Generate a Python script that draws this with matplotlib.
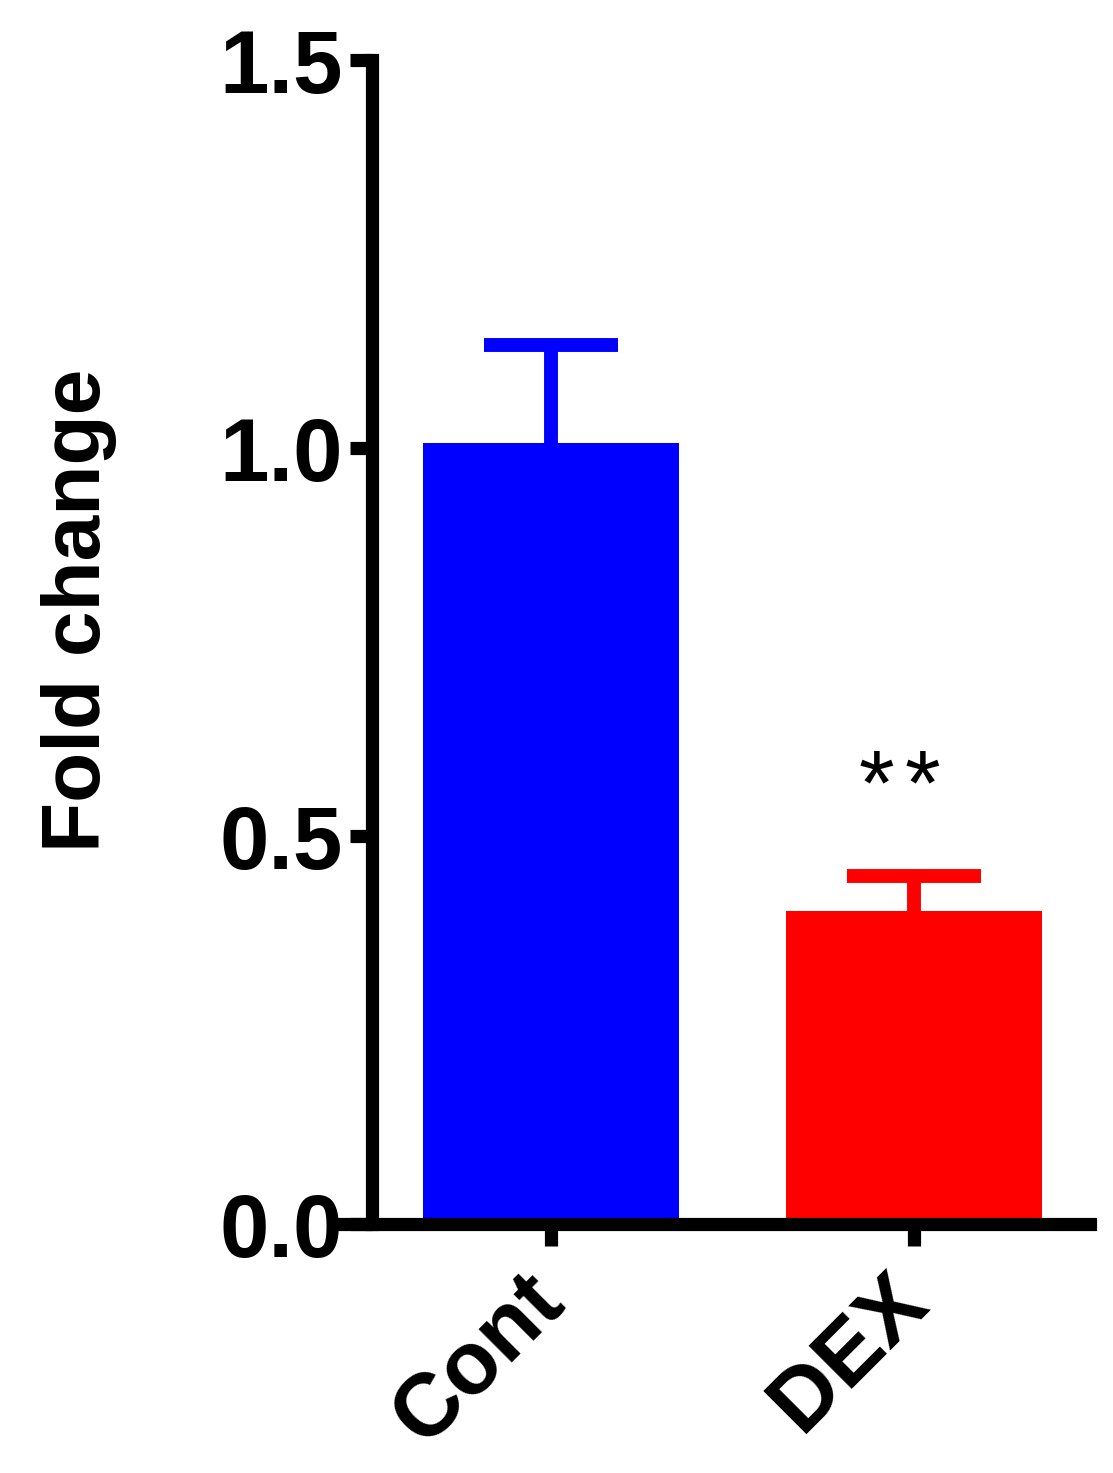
import numpy as np
import matplotlib
matplotlib.use('Agg')
import matplotlib.pyplot as plt

plt.rcParams['font.family'] = ['Liberation Sans', 'DejaVu Sans']
plt.rcParams['font.weight'] = 'bold'

# Values
groups = ['Cont', 'DEX']
fold_change = [1.007, 0.403]
sem = [0.126, 0.046]
bar_colors = ['#0000FF', '#FF0000']
y_ticks = [0.0, 0.5, 1.0, 1.5]
y_tick_labels = ['0.0', '0.5', '1.0', '1.5']
stars = ['*', '*']

fig = plt.figure(figsize=(11.13, 14.73), dpi=100)
ax = fig.add_axes([0.309, 0.169, 0.670, 0.79])

x = np.arange(len(groups))
cap_half = 0.185
for i in range(len(groups)):
    ax.bar(x[i], fold_change[i], width=0.705, color=bar_colors[i], zorder=2)
    # only the upper half of the error bar, like Prism draws it
    top = fold_change[i] + sem[i]
    ax.vlines(x[i], fold_change[i], top, color=bar_colors[i], linewidth=10, zorder=1)
    ax.hlines(top, x[i] - cap_half, x[i] + cap_half, color=bar_colors[i],
              linewidth=10, zorder=1)

# significance stars over DEX
star_y = fold_change[1] + sem[1] + 0.11
for k, s in enumerate(stars):
    ax.text(x[1] - 0.102 + 0.127 * k, star_y, s, ha='center', va='center',
            fontsize=66, fontweight='normal')

ax.set_xlim(-0.57, 1.485)
ax.set_ylim(0, 1.5)

# Prism style axes: left spine sits inside so the bottom one sticks out
ax.spines['top'].set_visible(False)
ax.spines['right'].set_visible(False)
ax.spines['left'].set_position(('data', -0.493))
ax.spines['left'].set_linewidth(9.5)
ax.spines['bottom'].set_linewidth(9.5)
ax.spines['left'].set_capstyle('projecting')

ax.set_yticks(y_ticks)
ax.set_yticklabels(y_tick_labels)
ax.set_xticks(x)
ax.set_xticklabels(groups, rotation=45, ha='right', va='center', rotation_mode='anchor')
ax.tick_params(axis='both', length=16, width=9.5, labelsize=64, pad=5)
ax.tick_params(axis='x', pad=30)

ax.set_ylabel('Fold change', fontsize=59, fontweight='bold')
ax.yaxis.set_label_coords(-0.304, 0.527)

fig.savefig('out.png', dpi=100, facecolor='white')
